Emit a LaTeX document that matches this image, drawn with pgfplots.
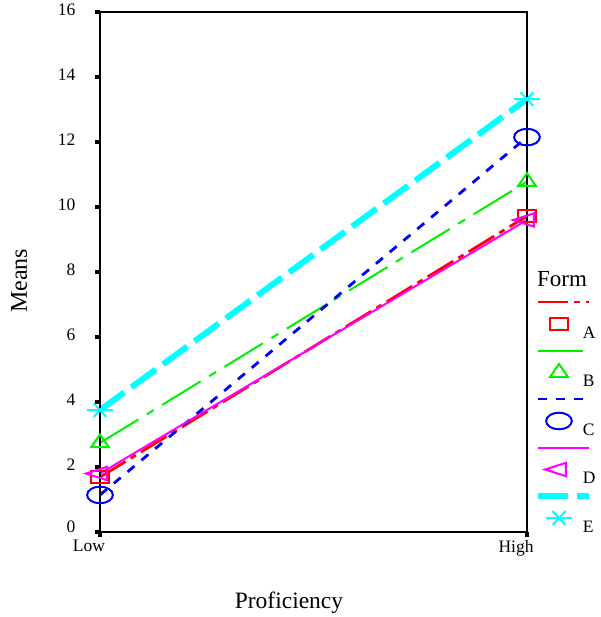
\documentclass[border=0pt]{standalone}
\usepackage{fontspec}
\setmainfont{Liberation Serif}
\usepackage{pgfplots}
\pgfplotsset{compat=1.18}

\definecolor{cA}{RGB}{255,0,0}
\definecolor{cB}{RGB}{0,240,0}
\definecolor{cC}{RGB}{0,0,240}
\definecolor{cD}{RGB}{255,0,255}
\definecolor{cE}{RGB}{0,255,255}

\newcommand{\fs}[1]{\fontsize{#1}{#1}\selectfont}

\begin{document}
\begin{tikzpicture}
\begin{axis}[
  scale only axis,
  width=427pt, height=520pt,
  xmin=0, xmax=1, ymin=0, ymax=16,
  xtick={0,1}, xticklabels={Low,High},
  ytick={0,2,...,16},
  yticklabel={\ifnum\ticknum=0 \raisebox{7pt}{0}\else\pgfmathprintnumber{\tick}\fi},
  tick align=outside, xtick pos=bottom, ytick pos=left,
  major tick length=5pt,
  every tick/.style={black, line width=4pt},
  axis line style={line width=2.5pt},
  axis on top, clip=false,
  tick label style={font=\fs{17.5}, /pgf/number format/assume math mode=true},
  yticklabel style={xshift=-16pt, yshift=2pt},
  xticklabel style={xshift=-11pt},
  xlabel={Proficiency}, ylabel={Means},
  xlabel style={at={(rel axis cs:0.4426,-0.1462)}, anchor=base, font=\fs{23.5}},
  ylabel style={at={(rel axis cs:-0.171,0.483)}, anchor=base, font=\fs{24}},
  legend style={at={(rel axis cs:1.1311,0.4548)}, anchor=north west,
    draw=none, fill=none, inner sep=0pt, outer sep=0pt,
    row sep=0pt, column sep=0pt, font=\fs{17.5},
    cells={anchor=base west}, nodes={inner sep=0pt, anchor=base west}},
  legend image code/.code={
    \path[draw=none, fill=none] (0pt,-6pt) rectangle (0pt,42.5pt);
    \draw[#1, overlay, mark=none] (-45pt,36pt) -- (6pt,36pt);
    \draw[#1, overlay] plot coordinates {(-24pt,14pt)};
  },
]

% A
\addplot[color=cA, line width=2.8pt, dash pattern=on 30pt off 6pt on 6pt off 6pt,
  mark=square, mark size=6pt, mark options={solid, line width=2pt, xscale=1.55}]
  coordinates {(0,1.69) (1,9.72)};
\addlegendentry{A}
% B
\addplot[color=cB, line width=2pt, dash pattern=on 45pt off 10pt on 8pt off 10pt,
  mark=triangle, mark size=8.5pt, mark options={solid, line width=2pt, xscale=1.2}]
  coordinates {(0,2.74) (1,10.78)};
\addlegendentry{B}
% C
\addplot[color=cC, line width=2.8pt, dash pattern=on 9pt off 9pt,
  mark=o, mark size=8.3pt, mark options={solid, line width=2pt, xscale=1.55}]
  coordinates {(0,1.14) (1,12.15)};
\addlegendentry{C}
% D
\addplot[color=cD, line width=2pt, solid,
  mark=triangle, mark size=7.7pt, mark options={solid, line width=2pt, xscale=1.8, rotate=90}]
  coordinates {(0,1.8) (1,9.6)};
\addlegendentry{D}
% E
\addplot[color=cE, line width=6pt, dash pattern=on 30pt off 9pt,
  mark=asterisk, mark size=8pt, mark options={solid, line width=2pt, xscale=1.6, rotate=90}]
  coordinates {(0,3.75) (1,13.32)};
\addlegendentry{E}

\node[anchor=base west, inner sep=0pt, font=\fs{23}] at (rel axis cs:1.0234,0.4712) {Form};

\coordinate (bl) at (rel axis cs:0,0);
\coordinate (tr) at (rel axis cs:1,1);
\end{axis}
\pgfresetboundingbox
\path ([shift={(-100pt,-85pt)}]bl) rectangle ([shift={(73pt,12pt)}]tr);
\end{tikzpicture}
\end{document}
